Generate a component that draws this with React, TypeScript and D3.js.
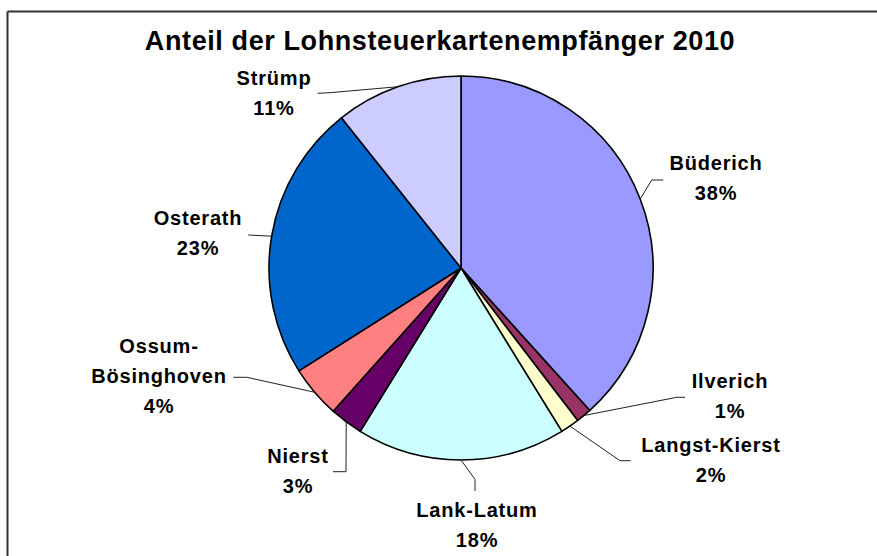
import * as d3 from "d3";

// ── Data ────────────────────────────────────────────────
const districts = ["Büderich", "Ilverich", "Langst-Kierst", "Lank-Latum", "Nierst", "Ossum-Bösinghoven", "Osterath", "Strümp"];
const shares = [38.3, 1.3, 1.6, 17.6, 2.8, 4.4, 23.3, 10.7];
const sliceColors = ["#9999FF", "#993366", "#FFFFCC", "#CCFFFF", "#660066", "#FF8080", "#0066CC", "#CCCCFF"];

// ── Layout ──────────────────────────────────────────────
const W = 877;
const H = 556;
const cx = 461;
const cy = 268;
const R = 192;
const FONT = "'Liberation Sans', Arial, sans-serif";
const LINE_H = 30;

// label text position (center x, first baseline) + leader bend points
const labelLayout: { lines: string[]; x: number; y: number; via: [number, number][] }[] = [
  { lines: ["Büderich"], x: 716, y: 170, via: [[651.7, 180], [663.3, 180]] },
  { lines: ["Ilverich"], x: 730, y: 388, via: [[676.7, 397.3], [685, 397.3]] },
  { lines: ["Langst-Kierst"], x: 711, y: 452, via: [[620, 460.7], [630.7, 460.7]] },
  { lines: ["Lank-Latum"], x: 477, y: 517, via: [[475, 479.3], [475, 491]] },
  { lines: ["Nierst"], x: 298, y: 463, via: [[346, 471.7], [333, 471.7]] },
  { lines: ["Ossum-", "Bösinghoven"], x: 159, y: 353, via: [[246.7, 377.3], [233.3, 377.3]] },
  { lines: ["Osterath"], x: 198, y: 225, via: [[248.3, 235]] },
  { lines: ["Strümp"], x: 274, y: 85, via: [[330, 92.7], [317.7, 93.3]] },
];

export default function App() {
  const total = d3.sum(shares);
  const pie = d3.pie<number>().sort(null).value(d => d);
  const arcs = pie(shares);
  const arc = d3.arc<d3.PieArcDatum<number>>().innerRadius(0).outerRadius(R);
  const edge = d3.arc<d3.PieArcDatum<number>>().innerRadius(R).outerRadius(R);
  const line = d3.line();

  return (
    <svg width={W} height={H} viewBox={`0 0 ${W} ${H}`}
      style={{ position: "absolute", left: 0, top: 0, background: "#fff", overflow: "hidden" }}>
      {/* frame (only top and left edges fall inside the picture) */}
      <line x1={7.5} x2={W} y1={11.5} y2={11.5} stroke="#333" strokeWidth={2} />
      <line x1={7.5} x2={7.5} y1={11.5} y2={H} stroke="#333" strokeWidth={2} />

      <text x={440} y={50} textAnchor="middle" fontFamily={FONT}
        fontWeight={700} fontSize={27} letterSpacing={0.6} fill="#000">
        Anteil der Lohnsteuerkartenempfänger 2010
      </text>

      <g transform={`translate(${cx},${cy})`}>
        {arcs.map((a, i) => (
          <path key={districts[i]} d={arc(a) ?? ""} fill={sliceColors[i]}
            stroke="#000" strokeWidth={1.6} strokeLinejoin="round" />
        ))}
      </g>

      {/* leader lines */}
      {arcs.map((a, i) => {
        const [ex, ey] = edge.centroid(a);
        const pts: [number, number][] = [[cx + ex, cy + ey], ...labelLayout[i].via];
        return (
          <path key={`l-${i}`} d={line(pts) ?? ""} fill="none"
            stroke="#222" strokeWidth={1} />
        );
      })}

      {/* labels */}
      {arcs.map((a, i) => {
        const lay = labelLayout[i];
        const pct = `${Math.round((a.data / total) * 100)}%`;
        const rows = [...lay.lines, pct];
        return (
          <text key={`t-${i}`} textAnchor="middle" fontFamily={FONT}
            fontWeight={700} fontSize={20} letterSpacing={0.8} fill="#000">
            {rows.map((r, j) => (
              <tspan key={j} x={lay.x} y={lay.y + j * LINE_H}>{r}</tspan>
            ))}
          </text>
        );
      })}
    </svg>
  );
}
